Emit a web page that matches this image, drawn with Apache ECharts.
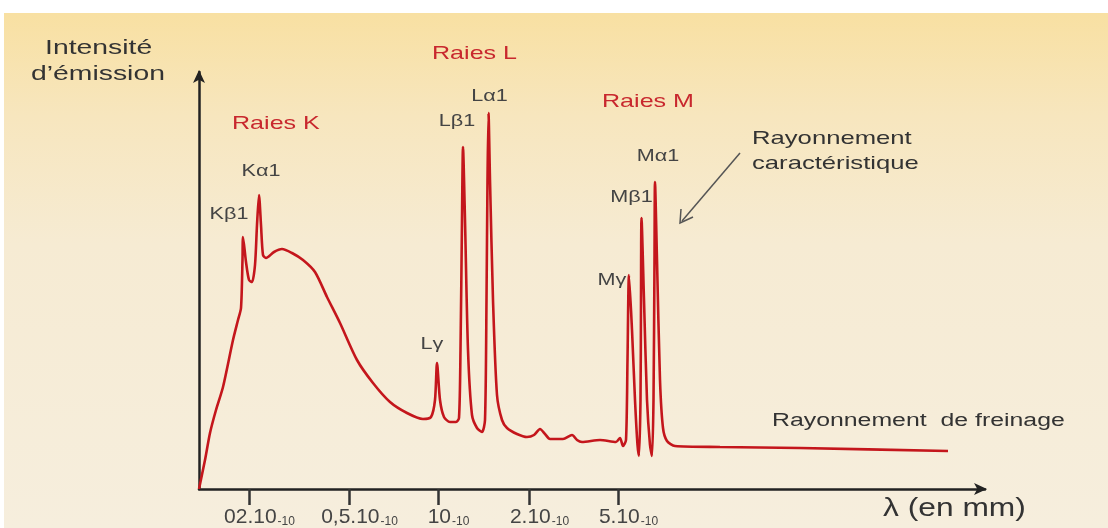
<!DOCTYPE html>
<html>
<head>
<meta charset="utf-8">
<script src="https://cdn.jsdelivr.net/npm/echarts@6/dist/echarts.min.js"></script>
<style>html,body{margin:0;padding:0;background:#fff}#c{width:1108px;height:528px}</style>
</head>
<body>
<div id="c"></div>
<script>
// wavelength (arbitrary non-linear scale) and emission intensity (arbitrary units)
const waveX = [0,1.2,2.2,3.4,4.8,6.8,7.8,8.4,8.7,8.8,9.4,10,10.6,11.2,11.6,12,12.4,12.8,13.4,15,16.6,18.6,20.8,23.2,25.6,28.2,31.6,34.8,38.2,41.6,44.8,46.4,47.2,47.6,48.2,49,50.2,51.4,52,52.3,52.6,52.8,53.2,53.8,54.6,55.6,56.6,57.2,57.5,57.7,57.9,58.2,58.8,59.6,60.6,61.6,63.6,65.6,67,68.2,69.2,70.2,72.8,74.6,75.6,76.6,80.2,83.4,84.2,84.8,85.4,85.7,86,86.6,87.2,87.7,88,88.3,88.4,88.5,89,89.6,90.2,90.6,90.9,91.1,91.2,91.6,92.2,92.8,93.6,95.2,104.2,120.2,149.8];
const intensity = [0,7.25,14,19.75,25.5,37.25,42.25,45.25,57.25,63,56.75,52.25,51.75,56,66,73.5,66,58.5,57.75,59.25,60,59,57.25,54.25,48,41.5,32.25,26.5,21.75,19,17.5,18,22.25,31.5,22.25,18,16.75,16.75,17.75,34.75,67.25,85.5,67.25,34.75,18.5,15.25,14.25,17.25,47.25,77.25,94,77.25,47.25,23.5,17.25,15.25,13.75,13,13.5,15,13.75,12.5,12.5,13.5,12.25,11.75,12.25,11.75,12.75,10.75,12.25,32.25,53.5,39.75,22.25,11,8.25,22.25,47.25,67.75,47.25,22.25,11,8.25,22.25,57.25,76.75,57.25,27.25,15.25,12,10.75,10.5,10.25,9.5];
// characteristic lines: name and wavelength position
const peakNames = ['Kβ1','Kα1','Lγ','Lβ1','Lα1','Mγ','Mβ1','Mα1'];
const peakX = [8.8,12,47.6,52.8,57.9,86,88.5,91.2];
// x-axis tick positions and labels
const tickX = [10,30,47.8,66,83.8];
const tickMain = ['02.10','0,5.10','10','2.10','5.10'];
const tickSub = ['-10','-10','-10','-10','-10'];

const peakOffsets = [[-14,-22],[2,-23],[-5,-18],[-6,-25],[1,-16],[-17,6],[-10,-20],[3,-25]];

const data = waveX.map((x,i)=>[x,intensity[i]]);
const font = '"Liberation Sans", Arial, sans-serif';
const SX = 1.35; // horizontal stretch of the original lettering

function txt(x,y,text,size,color,sx){
  return {type:'text', x:x, y:y, scaleX:sx||SX, z:20, silent:true,
    style:{text:text, font:size+'px '+font, fill:color, verticalAlign:'top', align:'left'}};
}

const chart = echarts.init(document.getElementById('c'));
chart.setOption({
  animation:false,
  backgroundColor:'#ffffff',
  grid:{left:199, right:123, top:72, bottom:39},
  xAxis:{
    type:'value', min:0, max:157.2,
    splitLine:{show:false},
    axisLine:{lineStyle:{color:'#222',width:2.5}, symbol:['none','arrow'], symbolSize:[9,13], symbolOffset:[0,2]},
    axisTick:{show:true, customValues:tickX, length:16, lineStyle:{color:'#333',width:2.5}},
    axisLabel:{customValues:tickX, margin:17, padding:[0,0,0,21],
      formatter:(v)=>{const i=tickX.indexOf(v); return i<0?'':'{a|'+tickMain[i]+'}{b|'+tickSub[i]+'}';},
      rich:{a:{fontSize:21,color:'#444',fontFamily:font,lineHeight:22,verticalAlign:'bottom'},
            b:{fontSize:12,color:'#444',fontFamily:font,lineHeight:22,verticalAlign:'bottom',padding:[0,0,0,1]}}}
  },
  yAxis:{
    type:'value', min:0, max:104.25,
    splitLine:{show:false},
    axisLine:{show:true, lineStyle:{color:'#222',width:2.5}, symbol:['none','arrow'], symbolSize:[9,13], symbolOffset:[0,2]},
    axisTick:{show:false}, axisLabel:{show:false}
  },
  series:[{
    type:'line', data:data, showSymbol:false, smooth:0.25,
    lineStyle:{color:'#C4161C', width:2.6}
  }]
});

// peak labels anchored to the data through the chart's scales
const peakLabels = peakNames.map((n,i)=>{
  const idx = waveX.indexOf(peakX[i]);
  const p = chart.convertToPixel({gridIndex:0},[peakX[i], intensity[idx]]);
  return {type:'text', x:p[0]+peakOffsets[i][0], y:p[1]+peakOffsets[i][1], scaleX:SX, z:20, silent:true,
    style:{text:n, font:'16px '+font, fill:'#444', align:'center', verticalAlign:'middle'}};
});

chart.setOption({
  graphic:[
    {type:'rect', z:-10, silent:true, shape:{x:4,y:13,width:1104,height:515},
     style:{fill:new echarts.graphic.LinearGradient(0,0,0,1,[
       {offset:0,color:'#F8E0A2'},{offset:0.2,color:'#F7E6BE'},{offset:0.45,color:'#F6EBD3'},{offset:1,color:'#F6EEDD'}])}},
    txt(45,38,'Intensité',21,'#333'),
    txt(31,64,'d’émission',21,'#333'),
    txt(232,114,'Raies K',19,'#C8282E',1.32),
    txt(432,44,'Raies L',19,'#C8282E',1.32),
    txt(602,92,'Raies M',19,'#C8282E',1.32),
    txt(752,129,'Rayonnement',19,'#333'),
    txt(752,154,'caractéristique',19,'#333'),
    txt(772,412,'Rayonnement  de freinage',18,'#333',1.38),
    txt(883,497,'λ (en mm)',25,'#333',1.27),
    {type:'line', z:10, silent:true, shape:{x1:740,y1:153,x2:682,y2:221}, style:{stroke:'#555',lineWidth:1.5}},
    {type:'polyline', z:10, silent:true, shape:{points:[[681,209],[680,223],[693,217]]}, style:{stroke:'#555',lineWidth:1.5,fill:null}}
  ].concat(peakLabels)
});
</script>
</body>
</html>
